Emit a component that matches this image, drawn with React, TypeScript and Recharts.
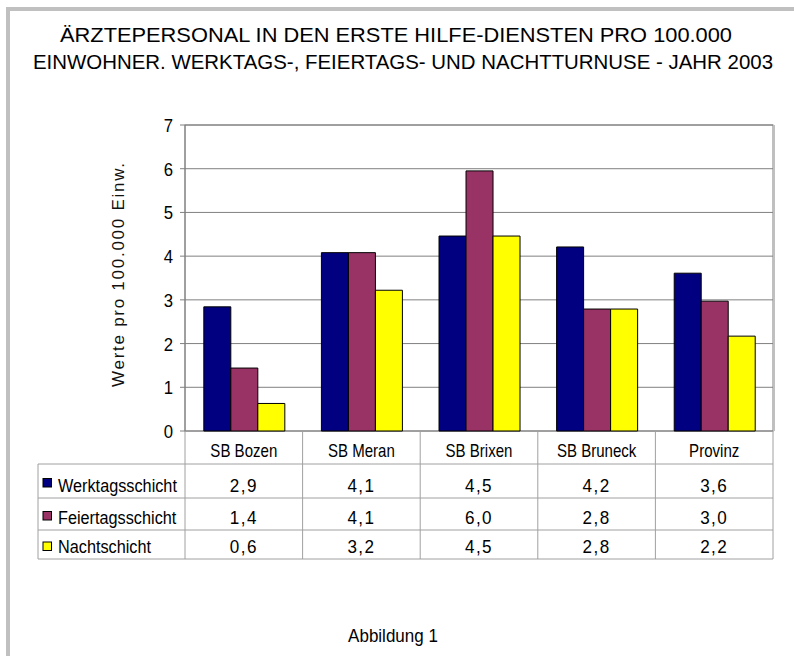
import React from 'react';
import { BarChart, Bar, XAxis, YAxis, CartesianGrid, Customized } from 'recharts';

const categories = ['SB Bozen', 'SB Meran', 'SB Brixen', 'SB Bruneck', 'Provinz'];
const werktag = [2.84, 4.08, 4.46, 4.21, 3.61];
const feiertag = [1.44, 4.08, 5.95, 2.79, 2.97];
const nacht = [0.63, 3.22, 4.46, 2.79, 2.17];
const werktagLabels = ['2,9', '4,1', '4,5', '4,2', '3,6'];
const feiertagLabels = ['1,4', '4,1', '6,0', '2,8', '3,0'];
const nachtLabels = ['0,6', '3,2', '4,5', '2,8', '2,2'];
const seriesNames = ['Werktagsschicht', 'Feiertagsschicht', 'Nachtschicht'];
const seriesColors = ['#000080', '#993366', '#FFFF00'];
const yTicks = [0, 1, 2, 3, 4, 5, 6, 7];
const titleLines = [
  'ÄRZTEPERSONAL IN DEN ERSTE HILFE-DIENSTEN PRO 100.000',
  'EINWOHNER. WERKTAGS-, FEIERTAGS- UND NACHTTURNUSE - JAHR 2003',
];
const yLabel = 'Werte pro 100.000 Einw.';
const caption = 'Abbildung 1';

const data = categories.map((c, i) => ({
  name: c,
  w: werktag[i],
  f: feiertag[i],
  n: nacht[i],
}));
const tableLabels = [werktagLabels, feiertagLabels, nachtLabels];

const W = 794;
const H = 656;
const PL = 185;
const PR = 773;
const PT = 125;
const PB = 431;
const rowLines = [431, 464, 498, 530, 559];
const tableLeft = 38;
const titleCenters = [396, 403];
const titleWidths = [672, 740];

const FONT = "'Liberation Sans', Arial, sans-serif";
const GRID = '#808080';
const TLINE = '#a0a0a0';

type TProps = {
  x: number;
  y: number;
  size: number;
  sx?: number;
  ls?: number;
  anchor?: 'start' | 'middle' | 'end';
  children: React.ReactNode;
};

const T = ({ x, y, size, sx = 1, ls = 0, anchor = 'start', children }: TProps) => (
  <text
    transform={`translate(${x},${y}) scale(${sx},1)`}
    x={0}
    y={0}
    textAnchor={anchor}
    fontFamily={FONT}
    fontSize={size}
    letterSpacing={ls}
    fill="#000"
  >
    {children}
  </text>
);

const Decorations = () => {
  const n = categories.length;
  const cw = (PR - PL) / n;
  const els: React.ReactNode[] = [];
  els.push(<rect key="frame" x={8} y={9} width={W} height={H} fill="none" stroke="#c0c0c0" strokeWidth={4} />);
  titleLines.forEach((t, i) => {
    els.push(
      <text key={'t' + i} x={titleCenters[i]} y={42 + i * 27} textAnchor="middle" fontFamily={FONT} fontSize={21}
        textLength={titleWidths[i]} lengthAdjust="spacingAndGlyphs" fill="#000">
        {t}
      </text>
    );
  });
  els.push(<rect key="pb" x={PL} y={PT} width={PR - PL} height={PB - PT} fill="none" stroke={GRID} strokeWidth={1} />);
  els.push(<line key="pbr" x1={PR + 1.5} y1={PT} x2={PR + 1.5} y2={PB} stroke="#c0c0c0" strokeWidth={1} />);
  els.push(
    <text key="yl" x={118} y={275} transform="rotate(-90 118 275)" textAnchor="middle" dominantBaseline="central"
      fontFamily={FONT} fontSize={17} textLength={224} lengthAdjust="spacing" fill="#111">
      {yLabel}
    </text>
  );
  els.push(<line key="hv0" x1={PL} y1={PB} x2={PL} y2={rowLines[4]} stroke={TLINE} />);
  for (let i = 1; i <= n; i++) {
    els.push(<line key={'v' + i} x1={PL + i * cw} y1={PB} x2={PL + i * cw} y2={rowLines[4]} stroke={TLINE} />);
  }
  els.push(<line key="vl" x1={tableLeft} y1={rowLines[1]} x2={tableLeft} y2={rowLines[4]} stroke={TLINE} />);
  for (let r = 1; r < rowLines.length; r++) {
    els.push(<line key={'h' + r} x1={tableLeft} y1={rowLines[r]} x2={PR} y2={rowLines[r]} stroke={TLINE} />);
  }
  seriesNames.forEach((s, r) => {
    const top = rowLines[r + 1];
    const bot = rowLines[r + 2];
    const base = bot - 6;
    const mid = (top + bot) / 2 + 2;
    els.push(<rect key={'sq' + r} x={43} y={mid - 4.5} width={8.5} height={8.5} fill={seriesColors[r]} stroke="#000" strokeWidth={1} />);
    els.push(<T key={'sn' + r} x={58} y={base} size={17.5} sx={0.93}>{s}</T>);
    tableLabels[r].forEach((v, c) => {
      els.push(
        <T key={'v' + r + '_' + c} x={PL + (c + 0.5) * cw} y={base} size={18} sx={0.95} ls={1.5} anchor="middle">{v}</T>
      );
    });
  });
  els.push(<T key="cap" x={393} y={642} size={18.5} sx={0.92} anchor="middle">{caption}</T>);
  return <g>{els}</g>;
};

const XTick = (props: any) => {
  const { x, payload } = props;
  return <T x={x} y={PB + 26} size={17.5} sx={0.86} anchor="middle">{payload.value}</T>;
};

const YTick = (props: any) => {
  const { x, y, payload } = props;
  return <T x={x} y={y + 7} size={19} sx={0.88} anchor="end">{payload.value}</T>;
};

export default function App() {
  return (
    <div style={{ position: 'absolute', left: 0, top: 0, width: W, height: H, background: '#fff' }}>
      <BarChart
        width={W}
        height={H}
        data={data}
        margin={{ top: PT, right: W - PR, bottom: 0, left: 0 }}
        barCategoryGap="16%"
        barGap={0}
      >
        <CartesianGrid horizontal vertical={false} stroke={GRID} />
        <XAxis dataKey="name" height={H - PB} axisLine={false} tickLine={false} tickSize={0} tickMargin={0}
          tick={<XTick />} interval={0} />
        <YAxis width={PL} domain={[0, 7]} ticks={yTicks} interval={0} axisLine={{ stroke: GRID }}
          tickLine={{ stroke: GRID }} tickSize={5} tickMargin={7} tick={<YTick />} />
        <Bar dataKey="w" fill={seriesColors[0]} stroke="#000" strokeWidth={1} isAnimationActive={false} />
        <Bar dataKey="f" fill={seriesColors[1]} stroke="#000" strokeWidth={1} isAnimationActive={false} />
        <Bar dataKey="n" fill={seriesColors[2]} stroke="#000" strokeWidth={1} isAnimationActive={false} />
        <Customized component={<Decorations />} />
      </BarChart>
    </div>
  );
}
